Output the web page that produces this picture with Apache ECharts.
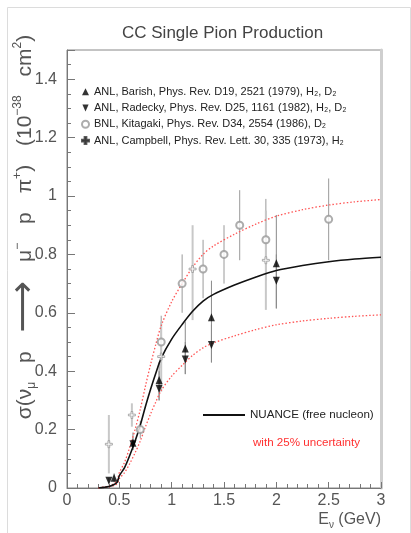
<!DOCTYPE html>
<html>
<head>
<meta charset="utf-8">
<script src="https://cdn.jsdelivr.net/npm/echarts@6/dist/echarts.min.js"></script>
<style>
  html, body { margin: 0; padding: 0; background: #fff; }
  #chart { width: 411px; height: 533px; }
</style>
</head>
<body>
<div id="chart"></div>
<script>
const FONT = "'Liberation Sans', Arial, sans-serif";

// NUANCE prediction and its 25% band
const curveE = [0.30, 0.35, 0.40, 0.45, 0.48, 0.50, 0.55, 0.60, 0.65, 0.70, 0.75, 0.80, 0.85, 0.90, 1.00, 1.10, 1.20, 1.30, 1.40, 1.60, 1.80, 2.00, 2.25, 2.50, 2.75, 3.00];
const nuanceS = [0.000, 0.002, 0.005, 0.012, 0.020, 0.042, 0.070, 0.112, 0.160, 0.215, 0.280, 0.340, 0.395, 0.445, 0.510, 0.560, 0.605, 0.640, 0.663, 0.695, 0.722, 0.745, 0.762, 0.775, 0.784, 0.790];
const upperS = [0.000, 0.003, 0.006, 0.015, 0.025, 0.053, 0.088, 0.140, 0.200, 0.269, 0.350, 0.425, 0.494, 0.556, 0.638, 0.700, 0.756, 0.800, 0.829, 0.869, 0.903, 0.931, 0.953, 0.969, 0.980, 0.988];
const lowerS = [0.000, 0.002, 0.004, 0.009, 0.015, 0.032, 0.053, 0.084, 0.120, 0.161, 0.210, 0.255, 0.296, 0.334, 0.383, 0.420, 0.454, 0.480, 0.497, 0.521, 0.542, 0.559, 0.572, 0.581, 0.588, 0.593];

// ANL Barish
const barishE = [0.45, 0.63, 0.88, 1.13, 1.38, 2.00];
const barishS = [0.035, 0.155, 0.370, 0.478, 0.585, 0.770];
const barishLo = [0.020, 0.130, 0.300, 0.390, 0.430, 0.615];
const barishHi = [0.050, 0.190, 0.430, 0.570, 0.710, 0.935];

// ANL Radecky
const radeckyE = [0.40, 0.63, 0.88, 1.13, 1.38, 2.00];
const radeckyS = [0.025, 0.150, 0.340, 0.440, 0.490, 0.710];
const radeckyLo = [0.015, 0.130, 0.300, 0.390, 0.430, 0.615];
const radeckyHi = [0.035, 0.170, 0.400, 0.500, 0.560, 0.800];

// BNL Kitagaki
const kitaE = [0.70, 0.90, 1.10, 1.30, 1.50, 1.65, 1.90, 2.50];
const kitaS = [0.200, 0.500, 0.700, 0.750, 0.800, 0.900, 0.850, 0.920];
const kitaLo = [0.170, 0.410, 0.600, 0.650, 0.700, 0.780, 0.710, 0.780];
const kitaHi = [0.230, 0.590, 0.800, 0.850, 0.900, 1.020, 0.990, 1.060];

// ANL Campbell
const campE = [0.40, 0.62, 0.90, 1.20, 1.90];
const campS = [0.150, 0.250, 0.450, 0.750, 0.780];
const campLo = [0.050, 0.210, 0.330, 0.575, 0.610];
const campHi = [0.250, 0.290, 0.570, 0.900, 0.950];

const xTicks = [0, 0.5, 1, 1.5, 2, 2.5, 3];
const yTicks = [0, 0.2, 0.4, 0.6, 0.8, 1, 1.2, 1.4];

const names = {
  barish: 'ANL, Barish, Phys. Rev. D19, 2521 (1979), H₂, D₂',
  radecky: 'ANL, Radecky, Phys. Rev. D25, 1161 (1982), H₂, D₂',
  kita: 'BNL, Kitagaki, Phys. Rev. D34, 2554 (1986), D₂',
  camp: 'ANL, Campbell, Phys. Rev. Lett. 30, 335 (1973), H₂',
  nuance: 'NUANCE (free nucleon)',
  band: 'with 25% uncertainty'
};

const PLUS = 'path://M3,0H5V3H8V5H5V8H3V5H0V3H3Z';
const DOWN = 'path://M0,0L8,0L4,9Z';

const pairs = (xs, ys) => xs.map((x, i) => [x, ys[i]]);
const bars = (xs, lo, hi) => xs.map((x, i) => [x, lo[i], hi[i]]);

function errorSeries(id, data, color, width) {
  return {
    id: id,
    type: 'custom',
    silent: true,
    z: 2,
    data: data,
    encode: { x: 0, y: [1, 2] },
    renderItem: function (params, api) {
      const a = api.coord([api.value(0), api.value(1)]);
      const b = api.coord([api.value(0), api.value(2)]);
      return {
        type: 'line',
        shape: { x1: a[0], y1: a[1], x2: b[0], y2: b[1] },
        style: { stroke: color, lineWidth: width }
      };
    }
  };
}

const chart = echarts.init(document.getElementById('chart'), null, { renderer: 'canvas' });

// y axis title, drawn as rotated rich text
const yRich = {
  t: { fontFamily: FONT, fontSize: 21, fill: '#555', lineHeight: 26, verticalAlign: 'middle' },
  g: { fontFamily: FONT, fontSize: 34, fill: '#555', lineHeight: 26, verticalAlign: 'middle' },
  ar: { fontFamily: "'DejaVu Sans', sans-serif", fontSize: 36, fill: '#555', lineHeight: 26, verticalAlign: 'middle' },
  sub: { fontFamily: FONT, fontSize: 12, fill: '#555', lineHeight: 26, verticalAlign: 'bottom' },
  sup: { fontFamily: FONT, fontSize: 12, fill: '#555', lineHeight: 26, verticalAlign: 'top' }
};
const yName = [
  '{t|σ(ν}{sub|μ}', '{t|p}', '{ar|⟶}', '{t|μ}{sup|−}', '{t|p}', '{t|π}{sup|+}{t|)}',
  '{t|(10}{sup|−38}', '{t|cm}{sup|2}{t|)}'
].join('{g|  }');

const option = {
  animation: false,
  backgroundColor: '#fff',
  textStyle: { fontFamily: FONT },
  title: {
    text: 'CC Single Pion Production',
    left: 117,
    top: 20,
    textStyle: { fontFamily: FONT, fontSize: 17, fontWeight: 'normal', color: '#444' }
  },
  graphic: [{
    type: 'rect',
    left: 5, top: 5,
    shape: { width: 403, height: 540 },
    style: { fill: 'none', stroke: '#dcdcdc', lineWidth: 1 },
    silent: true
  }, {
    type: 'text',
    x: 25, y: 227,
    rotation: Math.PI / 2,
    silent: true,
    style: { text: yName, rich: yRich, align: 'center', verticalAlign: 'middle', fill: '#555' }
  }],
  grid: {
    left: 67, right: 30, top: 50, bottom: 45,
    outerBoundsMode: 'none',
    containLabel: false,
    show: true, borderColor: '#888', borderWidth: 1
  },
  legend: [{
    data: [
      { name: names.barish },
      { name: names.radecky },
      { name: names.kita, itemStyle: { borderColor: '#333' } },
      { name: names.camp, itemStyle: { color: '#333', borderColor: '#333' } }
    ],
    orient: 'vertical',
    left: 81, top: 85,
    padding: 0,
    itemWidth: 7, itemHeight: 7, itemGap: 3,
    selectedMode: false,
    textStyle: { fontFamily: FONT, fontSize: 11, lineHeight: 13.3, color: '#222' }
  }, {
    data: [{ name: names.nuance, icon: 'rect' }],
    left: 203, top: 409,
    padding: 0,
    itemWidth: 42, itemHeight: 2,
    selectedMode: false,
    itemStyle: { color: '#111' },
    textStyle: { fontFamily: FONT, fontSize: 11.6, color: '#222' }
  }, {
    data: [names.band],
    left: 237, top: 437,
    padding: 0,
    itemWidth: 10, itemHeight: 12,
    selectedMode: false,
    itemStyle: { opacity: 0 },
    lineStyle: { opacity: 0 },
    textStyle: { fontFamily: FONT, fontSize: 11.6, color: '#ff3030' }
  }],
  xAxis: {
    type: 'value',
    min: 0, max: 3, interval: 0.5,
    name: '{t|E}{sub|ν}{t| (GeV)}',
    nameLocation: 'end',
    nameGap: 0,
    nameTextStyle: {
      align: 'right', verticalAlign: 'top', padding: [22, 0, 0, 0],
      rich: {
        t: { fontFamily: FONT, fontSize: 16, color: '#555', lineHeight: 20, verticalAlign: 'middle' },
        sub: { fontFamily: FONT, fontSize: 10, color: '#555', lineHeight: 20, verticalAlign: 'bottom' }
      }
    },
    axisLine: { lineStyle: { color: '#777', width: 1 } },
    axisTick: { inside: true, length: 6, lineStyle: { color: '#777' } },
    minorTick: { show: true, splitNumber: 5, length: 4, lineStyle: { color: '#777' } },
    splitLine: { show: false },
    axisLabel: {
      margin: 5,
      fontFamily: FONT, fontSize: 16, color: '#555',
      formatter: v => (xTicks.indexOf(v) >= 0 ? String(v) : '')
    }
  },
  yAxis: [{
    type: 'value',
    min: 0, max: 1.5, interval: 0.2,
    axisLine: { lineStyle: { color: '#777', width: 1 } },
    axisTick: { inside: true, length: 8, lineStyle: { color: '#777' } },
    splitLine: { show: false },
    axisLabel: {
      margin: 10,
      fontFamily: FONT, fontSize: 16, color: '#555',
      formatter: v => (yTicks.some(t => Math.abs(t - v) < 1e-9) ? String(+v.toFixed(1)) : '')
    }
  }, {
    type: 'value',
    min: 0, max: 1.5, interval: 0.05,
    position: 'left',
    axisLine: { show: false },
    axisTick: { inside: true, length: 4, lineStyle: { color: '#777' } },
    axisLabel: { show: false },
    splitLine: { show: false }
  }, {
    type: 'value',
    min: 0, max: 1.5,
    position: 'right',
    axisLine: { show: true, lineStyle: { color: '#cfcfcf', width: 3 } },
    axisTick: { show: false },
    axisLabel: { show: false },
    splitLine: { show: false }
  }],
  series: [
    {
      name: names.band, type: 'line', data: pairs(curveE, upperS),
      symbol: 'none', smooth: 0.3, z: 3,
      lineStyle: { color: '#ff5555', width: 1.3, type: [1.5, 2] }, itemStyle: { color: '#ff5555' }
    },
    {
      name: names.band, type: 'line', data: pairs(curveE, lowerS),
      symbol: 'none', smooth: 0.3, z: 3,
      lineStyle: { color: '#ff5555', width: 1.3, type: [1.5, 2] }, itemStyle: { color: '#ff5555' }
    },
    {
      name: names.nuance, type: 'line', data: pairs(curveE, nuanceS),
      symbol: 'none', smooth: 0.3, z: 4,
      lineStyle: { color: '#111', width: 1.6 }, itemStyle: { color: '#111' }
    },
    errorSeries('errBarish', bars(barishE, barishLo, barishHi), '#8a8a8a', 1),
    errorSeries('errRadecky', bars(radeckyE, radeckyLo, radeckyHi), '#8a8a8a', 1),
    errorSeries('errKita', bars(kitaE, kitaLo, kitaHi), '#9a9a9a', 1),
    errorSeries('errCamp', bars(campE, campLo, campHi), '#c8c8c8', 2),
    {
      name: names.barish, type: 'scatter', data: pairs(barishE, barishS),
      symbol: 'triangle', symbolSize: [7, 8], z: 6,
      itemStyle: { color: '#000' }
    },
    {
      name: names.radecky, type: 'scatter', data: pairs(radeckyE, radeckyS),
      symbol: DOWN, symbolSize: [7, 8], z: 6,
      itemStyle: { color: '#000' }
    },
    {
      name: names.kita, type: 'scatter', data: pairs(kitaE, kitaS),
      symbol: 'emptyCircle', symbolSize: 7, z: 6,
      itemStyle: { color: '#999', borderColor: '#999', borderWidth: 1 }
    },
    {
      name: names.camp, type: 'scatter', data: pairs(campE, campS),
      symbol: PLUS, symbolSize: 7, z: 6,
      itemStyle: { color: '#fff', borderColor: '#999', borderWidth: 1 }
    }
  ]
};

chart.setOption(option);
</script>
</body>
</html>
